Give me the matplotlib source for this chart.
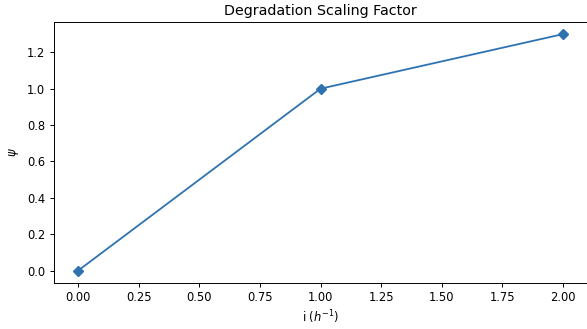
import matplotlib
matplotlib.use("Agg")
import matplotlib.pyplot as plt

# data
intensity = [0.0, 1.0, 2.0]
psi = [0.0, 1.0, 1.3]

plt.rcParams['font.size'] = 8.3
plt.rcParams['xtick.major.size'] = 2.8
plt.rcParams['ytick.major.size'] = 2.8
plt.rcParams['xtick.major.width'] = 0.7
plt.rcParams['ytick.major.width'] = 0.7
plt.rcParams['axes.linewidth'] = 0.7

fig = plt.figure(figsize=(5.87, 3.29), dpi=100)
ax = fig.add_axes([0.0916, 0.1413, 0.9089, 0.791])

ax.plot(intensity, psi, marker='D', markersize=5, linewidth=1.3, color='#2f72b0')

ax.set_title("Degradation Scaling Factor", fontsize=10.3, pad=5)
ax.set_xlabel("i ($h^{-1}$)", labelpad=3)
ax.set_ylabel(r"$\psi$")

fig.savefig("out.png", dpi=100)
